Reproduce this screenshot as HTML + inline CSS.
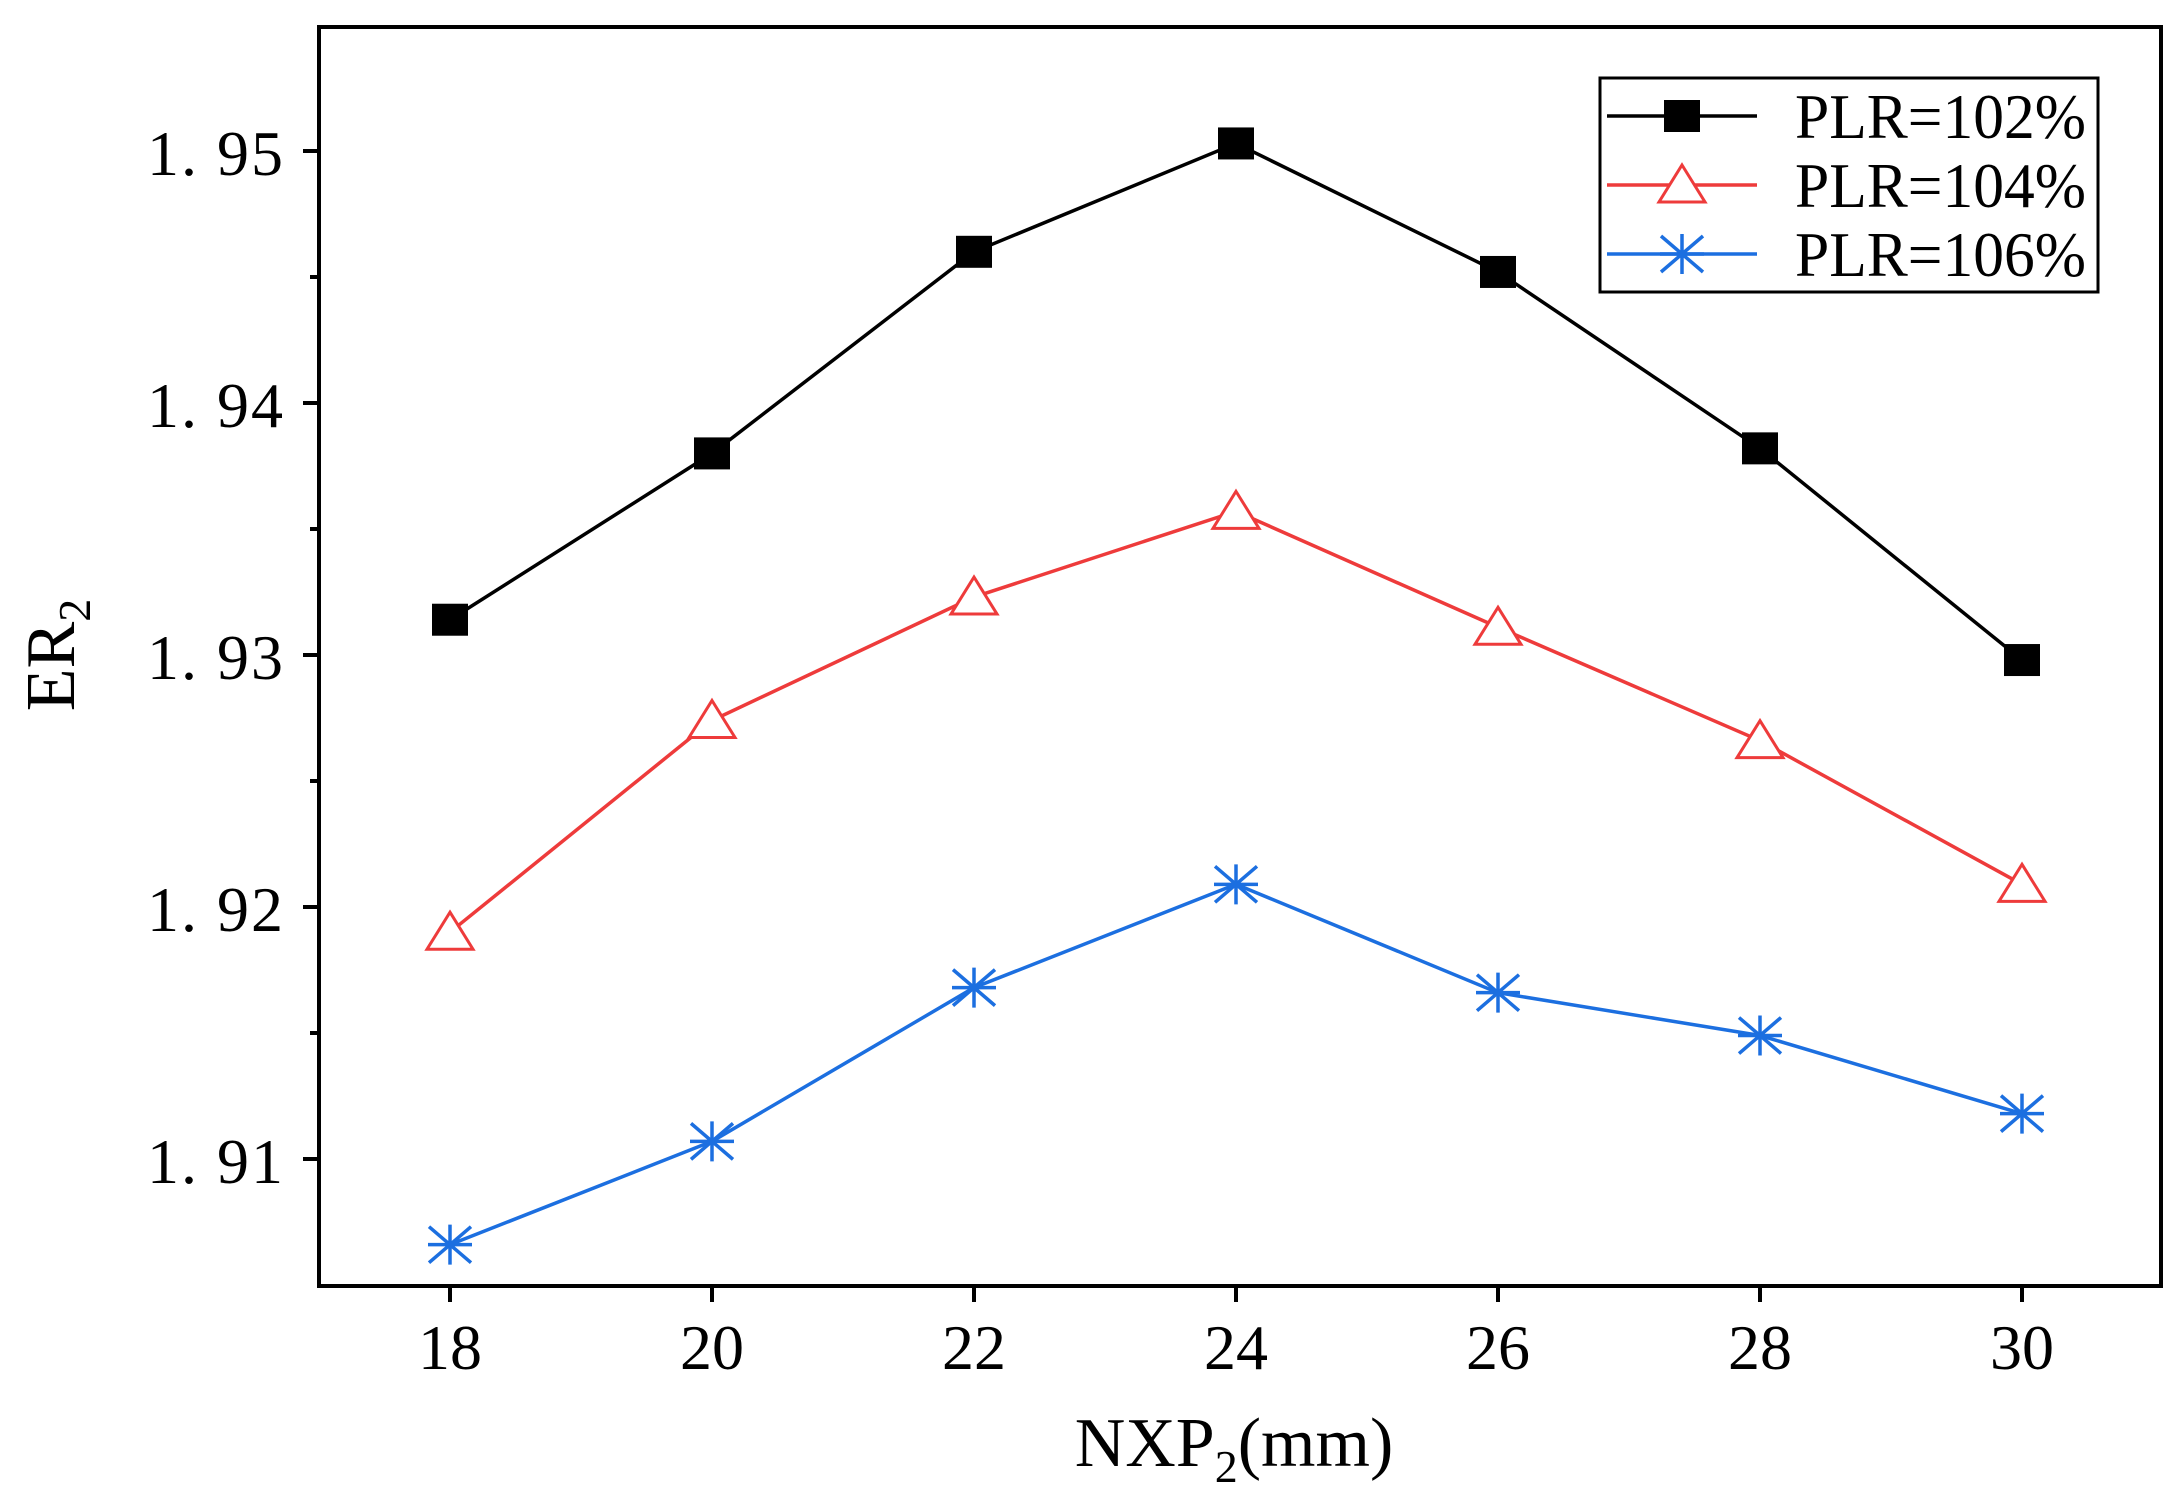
<!DOCTYPE html>
<html><head><meta charset="utf-8"><style>
html,body{margin:0;padding:0;background:#fff;}
svg{display:block;font-family:"Liberation Serif","Noto Serif CJK SC",serif;}
</style></head><body>
<svg id="chart" width="2175" height="1492" viewBox="0 0 2175 1492" xmlns="http://www.w3.org/2000/svg">
<g id="plot"></g>
</svg>
<script>
const categories = [18, 20, 22, 24, 26, 28, 30];
const series102 = [1.9314, 1.9380, 1.9460, 1.9503, 1.9452, 1.9382, 1.9298];
const series104 = [1.9190, 1.9274, 1.9323, 1.9357, 1.9311, 1.9266, 1.9209];
const series106 = [1.9066, 1.9107, 1.9168, 1.9209, 1.9166, 1.9149, 1.9118];
const yTicks = [1.91, 1.92, 1.93, 1.94, 1.95];
const yTickLabels = ["1. 91", "1. 92", "1. 93", "1. 94", "1. 95"];
const xTickLabels = ["18", "20", "22", "24", "26", "28", "30"];
const seriesNames = ["PLR=102%", "PLR=104%", "PLR=106%"];

const NS = "http://www.w3.org/2000/svg";
const L = 319, R = 2161, T = 27, B = 1286;
const xs = v => 450 + (v - 18) * 131;
const ys = v => 151 + (1.95 - v) * 25200;
const g = document.getElementById('plot');
function mk(tag, attrs, parent) {
  const e = document.createElementNS(NS, tag);
  for (const k in attrs) e.setAttribute(k, attrs[k]);
  (parent || g).appendChild(e);
  return e;
}
const frame = mk('rect', {x: L, y: T, width: R - L, height: B - T, fill: 'none', stroke: '#000', 'stroke-width': 4});


yTicks.forEach((v, i) => {
  const t = mk('line', {x1: L - 16, x2: L, y1: ys(v), y2: ys(v), stroke: '#000', 'stroke-width': 4});
  
  
  const lb = mk('text', {x: 147, y: ys(v) + 24, 'font-size': 64, textLength: 136, lengthAdjust: 'spacing'});
  lb.textContent = yTickLabels[i];
  
  
});
for (let v = 1.915; v < 1.955; v += 0.01) {
  const m = mk('line', {x1: L - 9, x2: L, y1: ys(v), y2: ys(v), stroke: '#000', 'stroke-width': 4});
  
  
}
categories.forEach((c, i) => {
  const t = mk('line', {x1: xs(c), x2: xs(c), y1: B, y2: B + 16, stroke: '#000', 'stroke-width': 4});
  
  
  const lb = mk('text', {x: xs(c), y: B + 83, 'text-anchor': 'middle', 'font-size': 64});
  lb.textContent = xTickLabels[i];
  
  
});
const xt = mk('text', {x: 1234, y: 1466, 'text-anchor': 'middle', 'font-size': 70});
xt.innerHTML = 'NXP<tspan font-size="46" dy="16">2</tspan><tspan dy="-16">(mm)</tspan>';


const yt = mk('text', {x: 0, y: 0, 'text-anchor': 'middle', 'font-size': 70, transform: 'translate(74,655) rotate(-90)'});
yt.innerHTML = 'ER<tspan font-size="46" dy="16">2</tspan>';



function marker(type, cx, cy, color, parent) {
  if (type === 0) return mk('rect', {x: cx - 18, y: cy - 16, width: 36, height: 32, fill: '#000'}, parent);
  if (type === 1) return mk('polygon', {points: `${cx},${cy - 20} ${cx + 23},${cy + 17} ${cx - 23},${cy + 17}`, fill: '#fff', stroke: color, 'stroke-width': 3}, parent);
  return mk('path', {d: `M${cx - 22},${cy}H${cx + 22}M${cx},${cy - 20}V${cy + 20}M${cx - 21},${cy - 18}L${cx + 21},${cy + 18}M${cx - 21},${cy + 18}L${cx + 21},${cy - 18}`, stroke: color, 'stroke-width': 3.5, fill: 'none'}, parent);
}
const all = [series102, series104, series106];
const colors = ['#000000', '#ee3b3b', '#1c6fe0'];
const snames = ['series-plr-102', 'series-plr-104', 'series-plr-106'];
all.forEach((s, si) => {
  const sg = mk('g', {});
  
  
  const pts = s.map((v, i) => xs(categories[i]) + ',' + ys(v)).join(' ');
  const pl = mk('polyline', {points: pts, fill: 'none', stroke: colors[si], 'stroke-width': 3.5}, sg);
  
  
  s.forEach((v, i) => {
    const m = marker(si, xs(categories[i]), ys(v), colors[si], sg);
    
    
  });
});
const lg = mk('g', {});


const lb = mk('rect', {x: 1600, y: 78, width: 498, height: 214, fill: '#fff', stroke: '#000', 'stroke-width': 3}, lg);


seriesNames.forEach((n, i) => {
  const cy = 116 + i * 69;
  const ln = mk('line', {x1: 1607, x2: 1757, y1: cy, y2: cy, stroke: colors[i], 'stroke-width': 3.5}, lg);
  
  
  const m = marker(i, 1682, cy, colors[i], lg);
  
  
  const t = mk('text', {x: 1795, y: cy + 22, 'font-size': 64, textLength: 291, lengthAdjust: 'spacingAndGlyphs'}, lg);
  t.textContent = n;
  
  
});
</script>
</body></html>
